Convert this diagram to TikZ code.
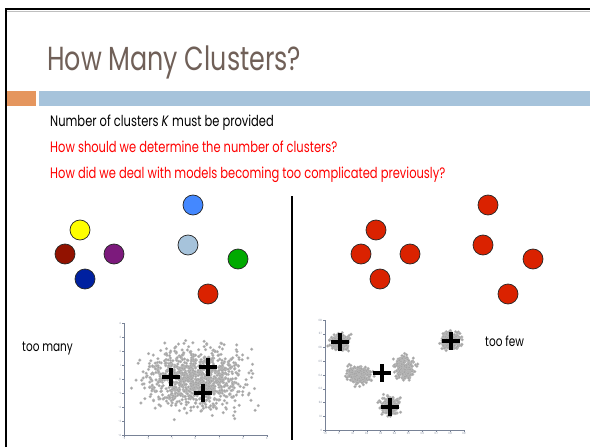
\documentclass[tikz,border=0pt]{standalone}
\usepackage{fontspec}
\setmainfont{Poppins}[FakeStretch=0.76]
\usetikzlibrary{shapes.misc}

\definecolor{titlegray}{RGB}{112,96,88}
\definecolor{barorange}{RGB}{229,150,94}
\definecolor{barblue}{RGB}{166,195,219}
\definecolor{ptgray}{RGB}{165,165,165}
\definecolor{axisgray}{RGB}{120,130,150}

\tikzset{
  ball/.style={circle, draw=black!85, line width=0.6pt, minimum size=0.6cm, inner sep=0pt},
  centroid/.style={cross out, draw=black, rotate=45, line width=2.8pt, minimum size=0.27cm, inner sep=0pt},
  pt/.style={fill=ptgray, draw=ptgray!70, line width=0.15pt},
  tick/.style={font=\fontsize{2.5}{3}\selectfont, text=axisgray, inner sep=0.5pt}
}

% gaussian-ish cloud: centre x, centre y, spread x, spread y, count
\newcommand{\pointcloud}[5]{%
  \foreach \k in {1,...,#5}{
    \pgfmathsetmacro{\px}{#1+#3*(rand+rand+rand)}
    \pgfmathsetmacro{\py}{#2+#4*(rand+rand+rand)}
    \filldraw[pt] (\px,\py) circle (0.045cm);
  }}

\begin{document}
\begin{tikzpicture}[x=0.03cm, y=-0.03cm]
  \useasboundingbox (0,0) rectangle (590,447);
  \pgfmathsetseed{42}

  % frame and header
  \draw[line width=1.7pt] (6,447) -- (6,9) -- (590,9);
  \draw[black!25, line width=0.6pt] (7,11.5) -- (590,11.5);
  \node[anchor=base west, text=titlegray, font=\fontsize{28.5}{30}\selectfont, inner sep=0] (title) at (47,70) {How Many Clusters?};
  \fill[barorange] (7,91) rectangle (36,106);
  \fill[barblue] (39,91) rectangle (590,106);

  % bullet text
  \node[anchor=base west, font=\fontsize{12.9}{15}\selectfont, inner sep=0] (q1) at (50,126) {Number of clusters \textit{K} must be provided};
  \node[anchor=base west, font=\fontsize{12.9}{15}\selectfont, text=red, inner sep=0] (q2) at (50,152) {How should we determine the number of clusters?};
  \node[anchor=base west, font=\fontsize{12.9}{15}\selectfont, text=red, inner sep=0] (q3) at (50,178) {How did we deal with models becoming too complicated previously?};

  % divider
  \coordinate (top) at (292,196);
  \coordinate (bot) at (292,440);
  \draw[line width=1.8pt] (top) -- (bot);

  % too many: every point its own colour
  \node[ball, fill={rgb,255:red,255;green,255;blue,0}] (a1) at (80,230) {};
  \node[ball, fill={rgb,255:red,146;green,18;blue,0}] (a2) at (65,254) {};
  \node[ball, fill={rgb,255:red,124;green,26;blue,124}] (a3) at (114,254) {};
  \node[ball, fill={rgb,255:red,0;green,32;blue,160}] (a4) at (85,279) {};
  \node[ball, fill={rgb,255:red,68;green,136;blue,255}] (a5) at (193,205) {};
  \node[ball, fill=barblue] (a6) at (188,245) {};
  \node[ball, fill={rgb,255:red,0;green,170;blue,0}] (a7) at (238,259) {};
  \node[ball, fill={rgb,255:red,218;green,34;blue,0}] (a8) at (208,294) {};

  % too few: one colour for all
  \node[ball, fill={rgb,255:red,218;green,34;blue,0}] (b1) at (376,230) {};
  \node[ball, fill={rgb,255:red,218;green,34;blue,0}] (b2) at (361,254) {};
  \node[ball, fill={rgb,255:red,218;green,34;blue,0}] (b3) at (410,254) {};
  \node[ball, fill={rgb,255:red,218;green,34;blue,0}] (b4) at (380,279) {};
  \node[ball, fill={rgb,255:red,218;green,34;blue,0}] (b5) at (488,205) {};
  \node[ball, fill={rgb,255:red,218;green,34;blue,0}] (b6) at (483,245) {};
  \node[ball, fill={rgb,255:red,218;green,34;blue,0}] (b7) at (533,259) {};
  \node[ball, fill={rgb,255:red,218;green,34;blue,0}] (b8) at (508,294) {};

  \node[anchor=base west, font=\fontsize{11.8}{13}\selectfont, inner sep=0] (many) at (22,351) {too many};
  \node[anchor=base west, font=\fontsize{11.8}{13}\selectfont, inner sep=0] (few) at (485,346) {too few};

  % left plot: one blob, three centres
  \draw[axisgray, line width=0.5pt] (124,323) -- (124,435) -- (268,435);
  \foreach \v [count=\i from 0] in {-4,...,4}
    \draw[axisgray, line width=0.3pt] (122,435-14*\i) -- (124,435-14*\i) node[tick, anchor=east, xshift=-2pt] {\v};
  \foreach \v [count=\i from 0] in {-3,...,3}
    \draw[axisgray, line width=0.3pt] (124+23.8*\i,435) -- (124+23.8*\i,437) node[tick, anchor=north] {\v};
  \pointcloud{197}{378}{24}{15}{1000}
  \node[centroid] (c1) at (171,377) {};
  \node[centroid] (c2) at (208,367) {};
  \node[centroid] (c3) at (203,393) {};

  % right plot: five blobs, four centres
  \draw[axisgray, line width=0.5pt] (325,320) -- (325,430) -- (465,430);
  \foreach \v [count=\i from 0] in {0,0.1,0.2,0.3,0.4,0.5,0.6,0.7,0.8}
    \draw[axisgray, line width=0.3pt] (323,430-13.75*\i) -- (325,430-13.75*\i) node[tick, anchor=east, xshift=-2pt] {\v};
  \foreach \v [count=\i from 0] in {-0.1,0,0.1,0.2,0.3,0.4,0.5,0.6,0.7,0.8,0.9}
    \draw[axisgray, line width=0.3pt] (325+13.9*\i,430) -- (325+13.9*\i,432) node[tick, anchor=north] {\v};
  \pointcloud{340}{342}{4.5}{4}{220}
  \pointcloud{451}{341}{4.5}{4}{220}
  \pointcloud{359}{375}{5.5}{4.5}{220}
  \pointcloud{404}{368}{5}{5.5}{220}
  \pointcloud{390}{406}{4.5}{4}{200}
  \node[centroid] (d1) at (340,342) {};
  \node[centroid] (d2) at (451,341) {};
  \node[centroid] (d3) at (382,373) {};
  \node[centroid] (d4) at (390,407) {};
\end{tikzpicture}
\end{document}
